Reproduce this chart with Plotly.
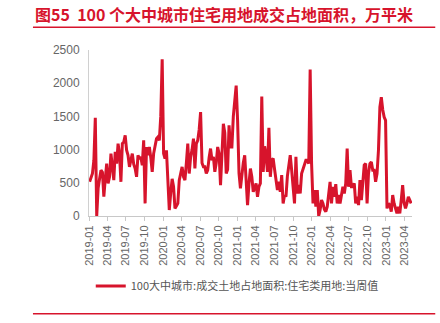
import pandas as pd
import plotly.graph_objects as go

start_date = "2019-01-04"
weekly_values = [
    515, 580, 640, 840, 1480, 0, 420, 560, 690, 660,
    290, 560, 790, 490, 590, 940, 720, 540, 965, 790,
    1090, 940, 515, 1090, 1115, 1215, 990, 915, 740, 820,
    940, 780, 715, 590, 915, 860, 890, 765, 1140, 190,
    1040, 915, 1040, 880, 665, 940, 1050, 1165, 1190, 1140,
    1500, 2360, 940, 865, 990, 400, 90, 350, 560, 440,
    115, 150, 190, 540, 620, 740, 590, 540, 800, 1090,
    640, 890, 1000, 1165, 715, 1090, 1140, 1300, 1565, 800,
    740, 740, 640, 690, 880, 1015, 840, 890, 665, 800,
    1040, 940, 465, 1000, 1390, 1250, 640, 700, 1365, 1040,
    1040, 1500, 1750, 1965, 1440, 640, 415, 640, 800, 915,
    440, 165, 490, 715, 590, 365, 420, 490, 290, 440,
    490, 1800, 665, 1050, 915, 665, 1330, 590, 840, 865,
    700, 540, 390, 515, 365, 615, 190, 315, 290, 600,
    765, 915, 690, 450, 190, 890, 340, 465, 340, 640,
    700, 765, 840, 840, 790, 2205, 790, 190, 390, 140,
    390, 0, 90, 240, 190, 100, 65, 140, 290, 515,
    190, 440, 290, 480, 190, 315, 190, 300, 440, 340,
    490, 1015, 440, 690, 440, 440, 490, 190, 290, 165,
    540, 240, 500, 765, 790, 190, 640, 790, 815, 690,
    690, 515, 640, 990, 1640, 1790, 1600, 1490, 1440, 115,
    190, 165, 65, 315, 190, 100, 40, 140, 40, 240,
    465, 200, 115, 190, 290, 240, 190,
]
dates = pd.date_range(start=start_date, periods=len(weekly_values), freq="7D")

tick_dates = pd.date_range("2019-01-01", "2023-04-01", freq="3MS")
tick_labels = [d.strftime("%Y-%m") for d in tick_dates]
y_ticks = [0, 500, 1000, 1500, 2000, 2500]

series_name = "100大中城市:成交土地占地面积:住宅类用地:当周值"
title_text = "图55&nbsp;&nbsp;100 个大中城市住宅用地成交占地面积，万平米"

RED = "#d7142c"
FONT = "Noto Sans CJK SC, Liberation Sans, Arial, sans-serif"
TICKFONT = "Liberation Sans, Arial, sans-serif"

fig = go.Figure()
fig.add_trace(go.Scatter(
    x=dates, y=weekly_values, mode="lines", name=series_name,
    line=dict(color=RED, width=3),
))

fig.update_layout(
    width=440, height=323,
    margin=dict(l=89, r=28, t=50, b=107),
    paper_bgcolor="white", plot_bgcolor="white",
    font=dict(family=FONT, color="#595959", size=11),
    showlegend=True,
    legend=dict(
        orientation="h", x=0.459, xanchor="center", y=-0.421, yanchor="middle",
        font=dict(size=11, color="#555555"), itemwidth=30,
        bgcolor="rgba(0,0,0,0)",
    ),
    xaxis=dict(
        range=["2019-01-01", "2023-05-09"],
        tickmode="array", tickvals=tick_dates, ticktext=tick_labels,
        tickangle=-90, tickfont=dict(size=11, color="#666666", family=TICKFONT),
        showgrid=False, zeroline=False,
        showline=True, linecolor="#c8c8c8", linewidth=1,
        ticks="outside", ticklen=4, tickcolor="#c8c8c8",
    ),
    yaxis=dict(
        range=[0, 2500], tickvals=y_ticks,
        tickfont=dict(size=12, color="#666666", family=TICKFONT),
        showgrid=False, zeroline=False,
        showline=True, linecolor="#d0d0d0", linewidth=1,
        ticks="", ticklabelstandoff=6,
    ),
    annotations=[dict(
        text="<b>" + title_text + "</b>", xref="paper", yref="paper",
        x=-0.1735, y=1.2147, xanchor="left", yanchor="middle", showarrow=False,
        font=dict(size=16, color=RED, family=FONT),
    )],
    shapes=[
        dict(type="line", xref="paper", yref="paper", x0=-0.1735, x1=1.072,
             y0=1.1365, y1=1.1365, line=dict(color=RED, width=1.5)),
        dict(type="line", xref="paper", yref="paper", x0=-0.1735, x1=1.072,
             y0=-0.589, y1=-0.589, line=dict(color=RED, width=1.5)),
    ],
)

fig.write_html("out.html")
